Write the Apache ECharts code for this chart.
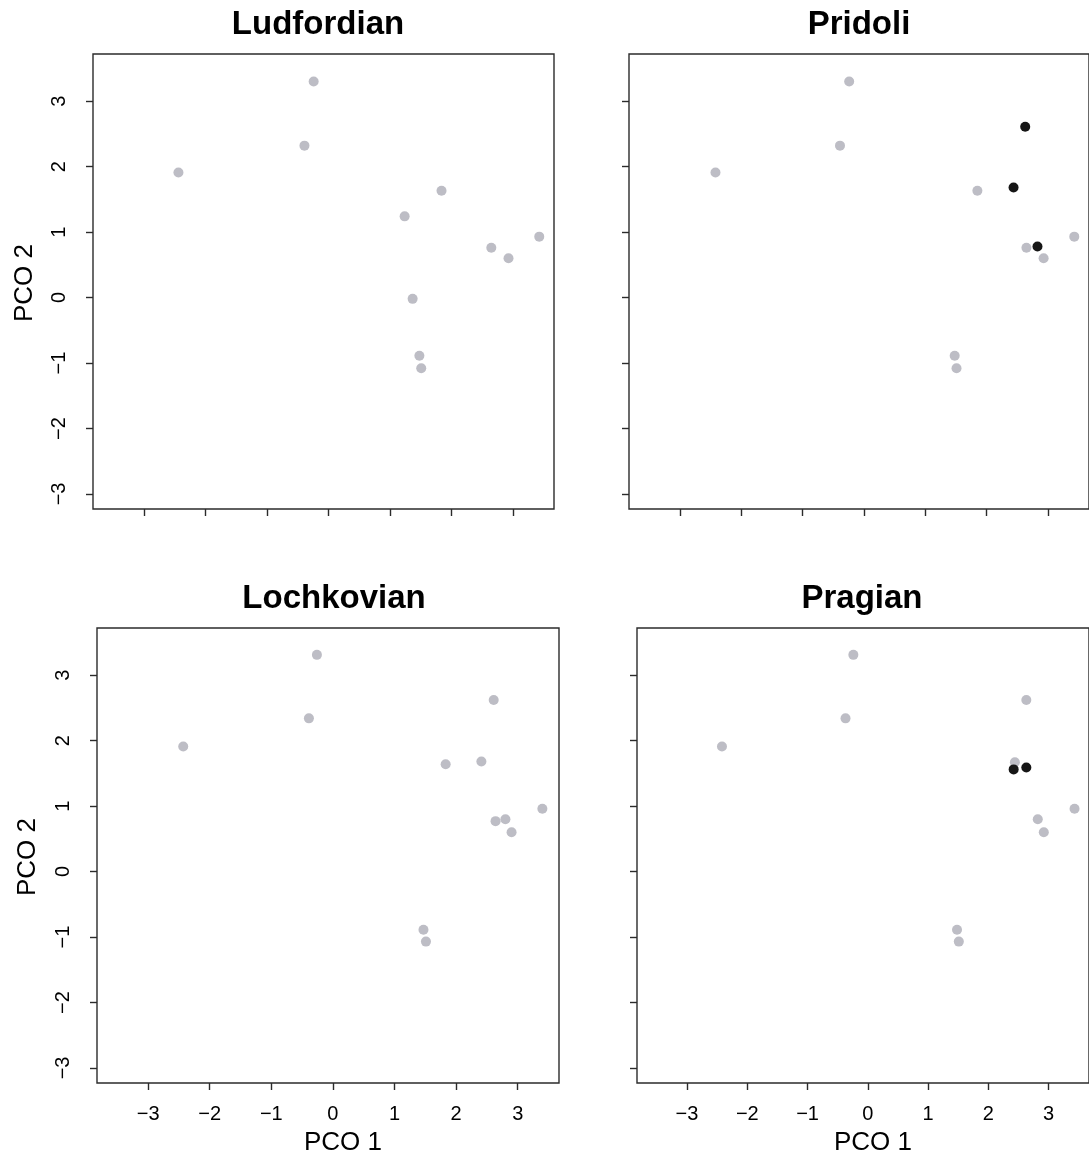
<!DOCTYPE html>
<html>
<head>
<meta charset="utf-8">
<script src="https://cdn.jsdelivr.net/npm/echarts@6/dist/echarts.min.js"></script>
<style>
  html, body { margin: 0; padding: 0; background: #ffffff; }
  #chart { width: 1089px; height: 1162px; }
</style>
</head>
<body>
<div id="chart"></div>
<script>
// Stage names (panel titles), in panel order
const stages = ['Ludfordian', 'Pridoli', 'Lochkovian', 'Pragian'];

// Tick values shared by both principal-coordinate axes
const tickValues = [-3, -2, -1, 0, 1, 2, 3];

// PCO 1 / PCO 2 scores: taxa already present (grey) and taxa new in the stage (black)
const ludfordianGrey = [
  [-2.44, 1.91], [-0.39, 2.32], [-0.24, 3.30], [1.24, 1.24], [1.84, 1.63],
  [2.65, 0.76], [2.93, 0.60], [3.43, 0.93], [1.37, -0.02], [1.48, -0.89], [1.51, -1.08]
];
const ludfordianBlack = [];

const pridoliGrey = [
  [-2.42, 1.91], [-0.39, 2.32], [-0.24, 3.30], [1.85, 1.63], [2.65, 0.76],
  [2.93, 0.60], [3.43, 0.93], [1.48, -0.89], [1.51, -1.08]
];
const pridoliBlack = [[2.63, 2.61], [2.44, 1.68], [2.83, 0.78]];

const lochkovianGrey = [
  [-2.43, 1.91], [-0.39, 2.34], [-0.26, 3.31], [1.83, 1.64], [2.41, 1.68],
  [2.61, 2.62], [2.64, 0.77], [2.80, 0.80], [2.90, 0.60], [3.40, 0.96],
  [1.47, -0.89], [1.51, -1.07]
];
const lochkovianBlack = [];

const pragianGrey = [
  [-2.42, 1.91], [-0.37, 2.34], [-0.24, 3.31], [2.63, 2.62], [2.44, 1.67],
  [2.82, 0.80], [2.92, 0.60], [3.43, 0.96], [1.48, -0.89], [1.51, -1.07]
];
const pragianBlack = [[2.42, 1.56], [2.63, 1.59]];

const greyPoints = [ludfordianGrey, pridoliGrey, lochkovianGrey, pragianGrey];
const blackPoints = [ludfordianBlack, pridoliBlack, lochkovianBlack, pragianBlack];

// Plot window (data units) used by every panel
const xRange = [-3.83, 3.67];
const yRange = [-3.23, 3.72];

// Panel boxes in pixels, with title centre and axis-name anchors
const panels = [
  { left: 93,  top: 54,  width: 461, height: 455, titleX: 313, xLabels: false, yLabels: true,  yName: [25, 283] },
  { left: 629, top: 54,  width: 461, height: 455, titleX: 854, xLabels: false, yLabels: false },
  { left: 97,  top: 628, width: 462, height: 455, titleX: 329, xLabels: true,  yLabels: true,  yName: [28, 857], xName: [343, 1143] },
  { left: 637, top: 628, width: 462, height: 455, titleX: 857, xLabels: true,  yLabels: false, xName: [873, 1143] }
];

const FONT = '"Liberation Sans", Arial, Helvetica, sans-serif';
const INK = '#2b2b2b';
const GREY = '#bdbdc5';
const BLACK = '#161616';

const fmt = v => (v < 0 ? '\u2212' + Math.abs(v) : String(v));

const grids = [], xAxes = [], yAxes = [], series = [], titles = [], names = [];

panels.forEach((p, i) => {
  grids.push({
    left: p.left, top: p.top, width: p.width, height: p.height,
    show: true, borderColor: INK, borderWidth: 1.4, backgroundColor: 'transparent'
  });
  titles.push({
    text: stages[i],
    left: p.titleX,
    top: p.top - 51,
    textAlign: 'center',
    textStyle: { fontFamily: FONT, fontWeight: 'bold', fontSize: 33, color: '#000' }
  });
  xAxes.push({
    type: 'value', gridIndex: i, min: xRange[0], max: xRange[1],
    axisLine: { show: false, onZero: false },
    axisTick: { show: true, length: 7, lineStyle: { color: INK, width: 1.4 }, customValues: tickValues },
    axisLabel: {
      show: p.xLabels, customValues: tickValues, margin: 21,
      fontFamily: FONT, fontSize: 20, color: '#000', formatter: fmt
    },
    splitLine: { show: false }
  });
  yAxes.push({
    type: 'value', gridIndex: i, min: yRange[0], max: yRange[1],
    axisLine: { show: false, onZero: false },
    axisTick: { show: true, length: 7, lineStyle: { color: INK, width: 1.4 }, customValues: tickValues },
    axisLabel: {
      show: p.yLabels, customValues: tickValues, margin: 24, rotate: 90,
      fontFamily: FONT, fontSize: 20, color: '#000', formatter: fmt
    },
    splitLine: { show: false }
  });
  if (p.xName) {
    names.push({
      type: 'text', x: p.xName[0], y: p.xName[1],
      style: { text: 'PCO 1', font: '26px ' + FONT, fill: '#000', align: 'center', verticalAlign: 'middle' }
    });
  }
  if (p.yName) {
    names.push({
      type: 'text', x: p.yName[0], y: p.yName[1], rotation: Math.PI / 2,
      style: { text: 'PCO 2', font: '26px ' + FONT, fill: '#000', align: 'center', verticalAlign: 'middle' }
    });
  }
  series.push({
    type: 'scatter', xAxisIndex: i, yAxisIndex: i,
    data: greyPoints[i], symbol: 'circle', symbolSize: 10,
    itemStyle: { color: GREY, opacity: 1 }, silent: true, z: 2
  });
  series.push({
    type: 'scatter', xAxisIndex: i, yAxisIndex: i,
    data: blackPoints[i], symbol: 'circle', symbolSize: 10,
    itemStyle: { color: BLACK, opacity: 1 }, silent: true, z: 3
  });
});

const chart = echarts.init(document.getElementById('chart'), null, { renderer: 'canvas' });
chart.setOption({
  backgroundColor: '#ffffff',
  animation: false,
  title: titles,
  grid: grids,
  xAxis: xAxes,
  yAxis: yAxes,
  series: series,
  graphic: names
});
</script>
</body>
</html>
